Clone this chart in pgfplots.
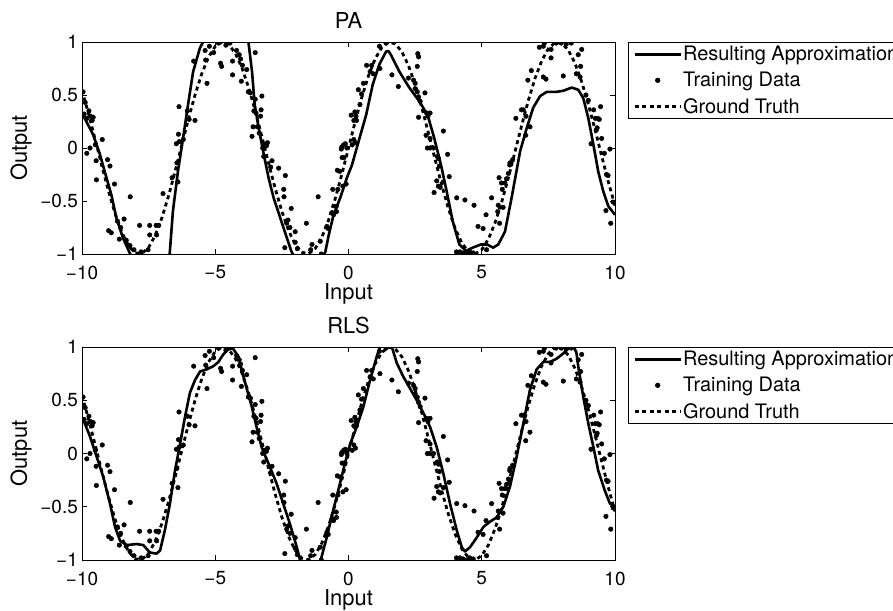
\documentclass[border=0pt]{standalone}
\usepackage{fontspec}
\setmainfont{TeX Gyre Heros}
\usepackage{pgfplots}
\usepackage{pgfplotstable}
\pgfplotsset{compat=1.18}

\pgfplotstableread{
x y
-9.96 0.53
-9.88 0.43
-9.92 0.32
-9.82 0.28
-9.74 0.35
-9.68 0.30
-9.62 0.26
-9.58 0.29
-9.82 -0.05
-9.70 0.00
-9.50 0.03
-9.24 0.08
-9.47 -0.12
-9.46 -0.30
-9.04 -0.11
-8.95 -0.17
-8.78 -0.34
-8.19 -0.46
-9.00 -0.78
-8.90 -0.80
-8.67 -0.69
-8.42 -0.67
-8.55 -0.75
-8.60 -0.86
-8.34 -0.87
-7.84 -0.73
-7.46 -0.73
-7.22 -0.73
-7.12 -0.73
-7.46 -0.82
-7.20 -0.82
-7.52 -0.96
-7.78 -0.98
-8.05 -0.96
-8.20 -0.92
-6.96 -0.43
-6.62 -0.28
-6.40 -0.32
-6.44 -0.14
-6.46 0.04
-6.35 0.06
-6.38 0.13
-6.20 0.08
-6.36 0.39
-6.05 0.35
-5.98 0.27
-5.76 0.26
-5.81 0.82
-5.36 0.83
-5.31 0.61
-5.38 0.92
-5.22 0.96
-5.06 0.90
-4.88 0.99
-4.60 0.97
-4.45 0.99
-4.80 0.80
-4.76 0.77
-4.35 0.82
-4.35 0.69
-4.20 0.92
-4.10 0.88
-4.05 0.84
-3.98 0.78
-4.02 0.63
-3.82 0.74
-3.50 0.90
-3.76 0.53
-3.68 0.52
-3.25 0.49
-3.50 0.46
-3.55 0.35
-3.47 0.33
-3.28 0.36
-3.30 0.30
-3.58 0.20
-3.62 0.11
-3.42 0.20
-3.35 0.14
-3.15 0.03
-3.08 0.02
-3.04 0.05
-3.22 0.00
-3.18 -0.08
-2.87 -0.12
-2.92 -0.18
-2.62 -0.19
-2.37 -0.26
-2.43 -0.39
-2.42 -0.46
-2.15 -0.57
-2.27 -0.68
-2.32 -0.71
-2.20 -0.75
-2.00 -0.79
-2.39 -0.94
-2.00 -0.89
-1.92 -0.95
-1.58 -0.71
-1.37 -0.91
-1.42 -0.96
-1.14 -0.46
-1.06 -0.88
-1.02 -1.00
-0.81 -0.74
-0.76 -0.76
-0.59 -0.39
-0.56 -0.63
-0.46 -0.55
-0.40 -0.39
-0.33 -0.22
-0.24 -0.09
-0.25 0.01
-0.12 0.04
-0.06 0.00
-0.45 -0.60
-0.62 -0.61
-0.21 -0.36
-0.09 -0.34
-0.42 -0.21
-0.17 -0.09
-0.27 -0.01
-0.18 0.03
0.10 0.31
0.20 0.08
0.26 0.05
0.14 0.03
0.20 0.26
0.24 0.34
0.30 0.26
0.28 0.30
0.43 0.41
0.37 0.55
0.49 0.51
0.56 0.61
0.68 0.78
0.81 0.72
0.87 0.78
0.93 0.70
1.18 0.75
1.16 0.96
1.41 0.99
1.63 0.69
1.87 0.58
2.25 0.66
2.44 0.64
2.50 0.61
2.50 0.56
2.60 0.89
2.63 0.86
2.58 0.77
2.58 0.53
2.63 0.48
2.69 0.44
2.87 0.52
2.93 0.33
2.98 0.30
2.63 0.29
3.06 0.33
2.91 0.12
3.06 0.09
2.96 0.00
3.06 0.00
3.19 0.00
3.33 -0.08
3.56 0.16
3.72 -0.06
3.38 -0.10
3.41 -0.17
3.31 -0.31
3.37 -0.36
3.44 -0.37
3.56 -0.32
3.78 -0.27
3.21 -0.42
4.06 -0.47
4.37 -0.49
4.71 -0.54
5.16 -0.63
5.37 -0.47
4.86 -0.74
5.05 -0.76
4.05 -0.98
4.18 -0.98
4.30 -0.99
4.43 -1.00
4.55 -0.98
4.68 -0.99
5.18 -0.96
5.60 -0.60
5.62 -0.54
5.65 -0.28
5.74 -0.33
5.77 -0.39
5.67 -0.71
5.80 -0.56
5.87 -0.33
5.93 -0.29
6.00 -0.24
6.05 -0.16
6.06 -0.14
6.16 -0.11
6.28 0.28
6.49 0.36
6.56 0.36
6.66 0.30
6.65 0.12
6.73 0.64
6.81 0.20
6.86 0.73
7.16 0.95
7.31 0.96
7.35 0.99
7.31 0.67
7.41 0.65
7.60 0.85
7.60 0.93
7.79 0.99
7.98 0.99
8.17 0.98
8.36 0.99
8.06 0.68
8.62 0.88
8.75 0.93
8.71 0.77
8.55 0.70
8.69 0.67
8.91 0.50
9.00 0.45
9.20 0.36
9.26 0.28
9.35 0.28
9.10 0.04
9.46 0.39
9.41 0.27
9.30 0.17
9.33 0.19
9.50 0.09
9.81 -0.01
9.68 -0.25
9.74 -0.26
9.66 -0.59
9.84 -0.71
9.93 -0.51
9.60 -0.05
}\trainingdata

\pgfplotstableread{
x y
-10.00 0.5440
-9.75 0.3195
-9.50 0.0752
-9.25 -0.1743
-9.00 -0.4121
-8.75 -0.6247
-8.50 -0.7985
-8.25 -0.9228
-8.00 -0.9894
-7.75 -0.9946
-7.50 -0.9380
-7.25 -0.8231
-7.00 -0.6570
-6.75 -0.4500
-6.50 -0.2151
-6.25 0.0332
-6.00 0.2794
-5.75 0.5083
-5.50 0.7055
-5.25 0.8589
-5.00 0.9589
-4.75 0.9993
-4.50 0.9775
-4.25 0.8950
-4.00 0.7568
-3.75 0.5716
-3.50 0.3508
-3.25 0.1082
-3.00 -0.1411
-2.75 -0.3817
-2.50 -0.5985
-2.25 -0.7781
-2.00 -0.9093
-1.75 -0.9840
-1.50 -0.9975
-1.25 -0.9490
-1.00 -0.8415
-0.75 -0.6816
-0.50 -0.4794
-0.25 -0.2474
0.00 0.0000
0.25 0.2474
0.50 0.4794
0.75 0.6816
1.00 0.8415
1.25 0.9490
1.50 0.9975
1.75 0.9840
2.00 0.9093
2.25 0.7781
2.50 0.5985
2.75 0.3817
3.00 0.1411
3.25 -0.1082
3.50 -0.3508
3.75 -0.5716
4.00 -0.7568
4.25 -0.8950
4.50 -0.9775
4.75 -0.9993
5.00 -0.9589
5.25 -0.8589
5.50 -0.7055
5.75 -0.5083
6.00 -0.2794
6.25 -0.0332
6.50 0.2151
6.75 0.4500
7.00 0.6570
7.25 0.8231
7.50 0.9380
7.75 0.9946
8.00 0.9894
8.25 0.9228
8.50 0.7985
8.75 0.6247
9.00 0.4121
9.25 0.1743
9.50 -0.0752
9.75 -0.3195
10.00 -0.5440
}\groundtruth

\pgfplotstableread{
x y
-10.00 0.33
-9.96 0.31
-9.59 0.13
-9.34 -0.05
-9.15 -0.22
-8.90 -0.44
-8.71 -0.66
-8.46 -0.85
-8.21 -0.99
-8.00 -1.10
-7.60 -1.25
-7.20 -1.30
-6.90 -1.20
-6.71 -1.00
-6.59 -0.60
-6.40 -0.22
-6.21 0.09
-6.02 0.41
-5.83 0.72
-5.58 0.94
-5.46 1.00
-5.20 1.12
-4.60 1.22
-4.10 1.15
-3.85 1.05
-3.75 0.99
-3.62 0.72
-3.52 0.41
-3.37 0.19
-3.18 -0.06
-3.00 -0.28
-2.81 -0.47
-2.56 -0.66
-2.35 -0.82
-2.15 -0.97
-1.90 -1.10
-1.50 -1.18
-1.10 -1.10
-0.87 -0.98
-0.74 -0.82
-0.56 -0.63
-0.31 -0.47
-0.06 -0.28
0.13 -0.16
0.41 0.09
0.66 0.31
0.91 0.60
1.16 0.79
1.41 0.91
1.50 0.915
1.59 0.88
1.91 0.72
2.28 0.57
2.66 0.44
2.97 0.31
3.22 0.09
3.47 -0.16
3.66 -0.38
3.91 -0.69
4.16 -0.91
4.41 -0.97
4.66 -0.94
4.97 -0.91
5.20 -0.91
5.43 -0.94
5.62 -0.91
5.87 -0.79
6.12 -0.47
6.44 -0.03
6.69 0.19
6.93 0.38
7.19 0.49
7.44 0.53
7.81 0.53
8.06 0.54
8.37 0.57
8.62 0.55
8.81 0.47
9.00 0.28
9.19 0.03
9.37 -0.22
9.56 -0.41
9.75 -0.55
10.00 -0.63
}\approxPA

\pgfplotstableread{
x y
-10.00 0.34
-9.97 0.33
-9.70 0.16
-9.45 -0.03
-9.20 -0.22
-8.95 -0.47
-8.76 -0.69
-8.57 -0.82
-8.32 -0.86
-7.95 -0.85
-7.70 -0.86
-7.45 -0.93
-7.20 -0.94
-7.07 -0.91
-6.89 -0.72
-6.70 -0.47
-6.51 -0.16
-6.32 0.09
-6.13 0.35
-5.95 0.57
-5.76 0.69
-5.57 0.77
-5.32 0.79
-5.07 0.82
-4.88 0.86
-4.70 0.93
-4.51 0.98
-4.40 1.00
-4.32 0.98
-4.13 0.91
-3.97 0.75
-3.82 0.61
-3.63 0.44
-3.45 0.25
-3.26 0.06
-3.01 -0.09
-2.70 -0.28
-2.45 -0.47
-2.20 -0.66
-1.94 -0.88
-1.82 -1.00
-1.60 -1.12
-1.30 -1.12
-1.04 -1.00
-0.82 -0.79
-0.57 -0.53
-0.32 -0.28
-0.13 -0.09
0.06 0.09
0.31 0.25
0.56 0.44
0.81 0.69
1.06 0.91
1.18 1.00
1.40 1.04
1.63 1.00
1.81 0.85
2.06 0.72
2.31 0.61
2.56 0.50
2.81 0.38
3.06 0.25
3.31 0.06
3.56 -0.19
3.81 -0.47
4.06 -0.72
4.25 -0.88
4.37 -0.92
4.56 -0.88
4.81 -0.79
5.06 -0.69
5.31 -0.64
5.56 -0.60
5.81 -0.50
6.06 -0.31
6.31 -0.03
6.56 0.28
6.81 0.60
7.06 0.79
7.31 0.86
7.56 0.86
7.81 0.89
8.06 0.94
8.25 0.99
8.43 1.01
8.55 0.95
8.62 0.82
8.81 0.53
9.00 0.28
9.19 0.06
9.37 -0.16
9.62 -0.35
9.81 -0.47
10.00 -0.50
}\approxRLS

\pgfplotsset{
  chartstyle/.style={
    scale only axis, width=533bp,
    xmin=-10, xmax=10, ymin=-1, ymax=1,
    xtick={-10,-5,0,5,10}, xticklabels={−10,−5,0,5,10},
    ytick={-1,-0.5,0,0.5,1}, yticklabels={−1,−0.5,0,0.5,1},
    tick align=inside, major tick length=5bp,
    every tick/.style={black, line width=0.6bp},
    axis line style={line width=0.8bp},
    tick label style={font=\fontsize{19}{22}\selectfont},
    xticklabel style={inner sep=0pt, anchor=north, yshift=-11.5bp},
    yticklabel style={inner sep=0pt, anchor=east, xshift=-4bp},
    xlabel=Input, ylabel=Output,
    every axis x label/.style={at={(axis description cs:0.5,0)}, anchor=base, yshift=-45bp, inner sep=0pt, font=\fontsize{22}{26}\selectfont},
    every axis y label/.style={at={(axis description cs:-0.1032,0.5)}, rotate=90, anchor=base, inner sep=0pt, font=\fontsize{22}{26}\selectfont},
    every axis title/.style={at={(axis description cs:0.5,1)}, anchor=base, yshift=14bp, inner sep=0pt, font=\fontsize{22}{26}\selectfont},
    legend style={at={(axis description cs:1,1)}, anchor=north west, xshift=13bp, draw=black, line width=0.6bp, font=\fontsize{20}{24}\selectfont, inner xsep=5bp, inner ysep=3bp, row sep=8bp, nodes={inner sep=1bp}},
    legend cell align=left,
    legend image code/.code={\draw[mark repeat=2,mark phase=2,##1] plot coordinates {(0bp,0bp) (23bp,0bp) (46bp,0bp)};},
    clip marker paths=true,
  }
}

\begin{document}
\begin{tikzpicture}
\begin{axis}[chartstyle, height=212bp, at={(82bp,-254bp)}, anchor=south west, title={PA}]
\addplot[black, line width=2.6bp, line join=round, mark=none] table {\approxPA};
\addlegendentry{Resulting Approximation}
\addplot[black, only marks, mark=*, mark size=2.3bp] table {\trainingdata};
\addlegendentry{Training Data}
\addplot[black, line width=2.8bp, dash pattern=on 4bp off 3.5bp, mark=none] table {\groundtruth};
\addlegendentry{Ground Truth}
\end{axis}
\begin{axis}[chartstyle, height=213bp, at={(82bp,-560bp)}, anchor=south west, title={RLS}]
\addplot[black, line width=2.6bp, line join=round, mark=none] table {\approxRLS};
\addlegendentry{Resulting Approximation}
\addplot[black, only marks, mark=*, mark size=2.3bp] table {\trainingdata};
\addlegendentry{Training Data}
\addplot[black, line width=2.8bp, dash pattern=on 4bp off 3.5bp, mark=none] table {\groundtruth};
\addlegendentry{Ground Truth}
\end{axis}
\pgfresetboundingbox
\useasboundingbox (0bp,0bp) rectangle (893bp,-611bp);
\end{tikzpicture}
\end{document}
